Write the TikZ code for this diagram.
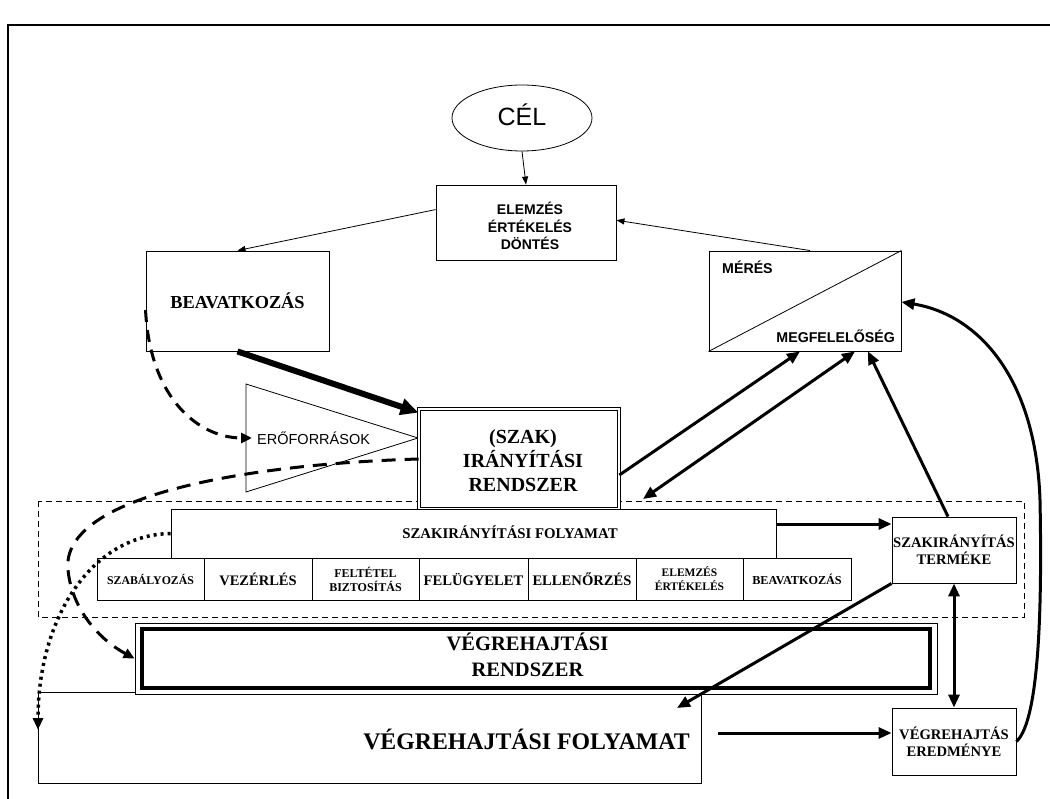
\documentclass[tikz,border=0pt]{standalone}
\usepackage{fontspec}
\setmainfont{Liberation Serif}
\setsansfont{Liberation Sans}
\usetikzlibrary{arrows.meta,shapes.geometric,calc}
\tikzset{
  box/.style={draw,line width=0.9pt,fill=white,inner sep=0pt,align=center},
  thin/.style={line width=0.8pt,-{Triangle[length=8pt,width=6pt]}},
  thickarr/.style={line width=3pt,-{Triangle[length=13pt,width=11pt]}},
  thickdbl/.style={line width=3pt,{Triangle[length=13pt,width=11pt]}-{Triangle[length=13pt,width=11pt]}},
  serb/.style={font=\fontsize{#1}{#1}\selectfont\bfseries},
  sanb/.style={font=\fontsize{#1}{#1}\selectfont\sffamily\bfseries},
  cell/.style={draw,line width=0.9pt,fill=white,inner sep=0pt,align=center,minimum height=42pt},
}
\begin{document}
\begin{tikzpicture}[x=1pt,y=-1pt]
\useasboundingbox (0,0) rectangle (1050,799);
\draw[line width=2pt] (8,801) -- (8,25) -- (1052,25);

% top
\node[draw,ellipse,line width=0.8pt,minimum width=140pt,minimum height=66pt,inner sep=0pt] (cel) at (522,118) {};
\node[font=\fontsize{25}{25}\selectfont\sffamily,inner sep=0pt] (celt) at (522,115) {CÉL};
\node[box,minimum width=180pt,minimum height=75pt] (elem) at (526,222.5) {};
\node[font=\fontsize{14}{17.5}\selectfont\sffamily\bfseries,align=center,inner sep=0pt] (elemt) at (530,226)
  {ELEMZÉS\\ÉRTÉKELÉS\\DÖNTÉS};
\node[box,minimum width=183pt,minimum height=100pt,serb=18.3] (beav) at (237.5,301) {BEAVATKOZÁS};
\node[box,minimum width=192pt,minimum height=100pt] (meres) at (805,301) {};
\draw[line width=0.8pt] (meres.south west) -- (meres.north east);
\node[sanb=14.2,anchor=west,inner sep=0pt] (meresl) at (722,267) {MÉRÉS};
\node[sanb=14.2,anchor=east,inner sep=0pt] (megf) at (895,336) {MEGFELELŐSÉG};

% resources triangle
\coordinate (t1) at (246,384);
\coordinate (t2) at (246,492);
\coordinate (t3) at (418,438);
\draw[line width=0.8pt,fill=white] (t1) -- (t3) -- (t2) -- cycle;
\node[anchor=west,font=\fontsize{14.5}{14.5}\selectfont\sffamily,inner sep=0pt] (erof) at (257,438) {ERŐFORRÁSOK};

% dashed area
\draw[line width=0.9pt,dash pattern=on 6pt off 4pt] (38,501) rectangle (1024,617);

% SZAK box
\node[draw,double,double distance=2pt,line width=0.8pt,fill=white,minimum width=200pt,minimum height=100pt,inner sep=0pt] (szak) at (519,459) {};
\node[font=\fontsize{20}{24}\selectfont\bfseries,align=center,inner sep=0pt] (szakt) at (523,461) {(SZAK)\\IRÁNYÍTÁSI\\RENDSZER};

% process
\node[box,minimum width=605pt,minimum height=49pt] (folyam) at (473.5,533.5) {};
\node[serb=14.8,inner sep=0pt] (folyamt) at (510,532) {SZAKIRÁNYÍTÁSI FOLYAMAT};
\node[cell,minimum width=107pt,serb=11.8] (c1) at (150.5,579) {SZABÁLYOZÁS};
\node[cell,minimum width=108pt,serb=14.5] (c2) at (258,579) {VEZÉRLÉS};
\node[cell,minimum width=107pt,font=\fontsize{12}{14}\selectfont\bfseries] (c3) at (365.5,579) {FELTÉTEL\\BIZTOSÍTÁS};
\node[cell,minimum width=109pt,serb=14.6] (c4) at (473.5,579) {FELÜGYELET};
\node[cell,minimum width=108pt,serb=14.6] (c5) at (582,579) {ELLENŐRZÉS};
\node[cell,minimum width=107pt,font=\fontsize{11.5}{14}\selectfont\bfseries] (c6) at (689.5,579) {ELEMZÉS\\ÉRTÉKELÉS};
\node[cell,minimum width=108pt,serb=12.2] (c7) at (797,579) {BEAVATKOZÁS};

\node[box,minimum width=124pt,minimum height=66pt,font=\fontsize{14.6}{17}\selectfont\bfseries] (termek) at (954,550) {SZAKIRÁNYÍTÁS\\TERMÉKE};

% execution
\node[box,minimum width=663pt,minimum height=91pt] (vfoly) at (369.5,737.5) {};
\node[serb=23.8,inner sep=0pt] (vfolyt) at (526.5,739) {VÉGREHAJTÁSI FOLYAMAT};
\node[draw,line width=0.8pt,fill=white,minimum width=802pt,minimum height=71pt,inner sep=0pt] (vrend) at (536,658.5) {};
\node[draw,line width=3.5pt,minimum width=788pt,minimum height=59pt,inner sep=0pt] (vrendi) at (536,658.5) {};
\node[font=\fontsize{20.5}{26}\selectfont\bfseries,align=center,inner sep=0pt] (vrendt) at (527.5,655) {VÉGREHAJTÁSI\\RENDSZER};
\node[box,minimum width=124pt,minimum height=67pt,font=\fontsize{14.6}{17}\selectfont\bfseries] (eredm) at (954,741.5) {VÉGREHAJTÁS\\EREDMÉNYE};

% connectors
\draw[thin] (cel.south) -- (elem.north);
\draw[thin] ($(elem.north west)!0.33!(elem.south west)$) -- (beav.north);
\draw[thin] (meres.north -| 810,0) -- ($(elem.north east)!0.47!(elem.south east)$);
\draw[line width=6pt,-{Triangle[length=18pt,width=16pt]}] (beav.south) -- ($(szak.north west)+(0,4)$);
\draw[line width=3pt,dash pattern=on 12pt off 8pt,-{Triangle[length=11pt,width=10pt]}]
  ($(beav.north west)!0.59!(beav.south west)$) .. controls (150,400) and (200,438) .. (252,438);
\draw[line width=3pt,dash pattern=on 14pt off 9pt,-{Triangle[length=11pt,width=10pt]}]
  (szak.west |- 0,459) .. controls (250,464) and (60,495) .. (68,570) .. controls (72,610) and (100,640) .. (vrend.west);
\draw[line width=3.5pt,dash pattern=on 3pt off 4pt,-{Triangle[length=12pt,width=10pt]}]
  (folyam.west) .. controls (90,535) and (38,620) .. (38,730);
\draw[thickarr] (folyam.east |- 0,524) -- (termek.west |- 0,524);
\draw[thickarr] (szak.east |- 0,475) -- (meres.south -| 800,0);
\coordinate (dblA) at (643,499);
\draw[thickdbl] (dblA) -- (meres.south -| 855,0);
\draw[thickarr] (termek.north -| 948,0) -- (meres.south -| 868,0);
\coordinate (vin) at (677,708);
\draw[thickarr] (termek.south west) -- (vin);
\coordinate (vout) at (718,733);
\draw[thickarr] (vout) -- (eredm.west |- 0,733);
\draw[thickdbl] (termek.south) -- (eredm.north);
\draw[thickarr] (eredm.east) .. controls (1040,720) and (1042,600) .. (1040,500) .. controls (1036,380) and (980,315) .. (meres.east |- 0,302);
\end{tikzpicture}
\end{document}
